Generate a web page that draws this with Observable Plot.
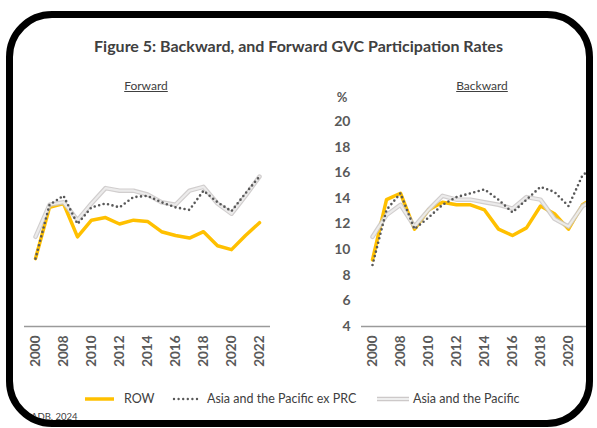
<!DOCTYPE html>
<html><head><meta charset="utf-8">
<script src="https://cdn.jsdelivr.net/npm/d3@7"></script>
<script src="https://cdn.jsdelivr.net/npm/@observablehq/plot@0.6"></script>
<style>
body{margin:0;background:#fff;}
#page{position:relative;width:597px;height:428px;overflow:hidden;font-family:Lato,"Open Sans",sans-serif;background:#fff;}
#frame{position:absolute;left:6px;top:11px;width:587px;height:416px;box-sizing:border-box;border:7px solid #000;border-radius:46px;overflow:hidden;}
#inner{position:absolute;left:-13px;top:-18px;width:597px;height:428px;}
.abs{position:absolute;white-space:nowrap;}
#charts svg{position:absolute;left:0;top:0;max-width:none !important;}
.lg{position:absolute;top:391px;font-size:12.5px;color:#404040;white-space:nowrap;}
</style></head><body>
<div id="page"><div id="frame"><div id="inner">
  <div class="abs" style="left:0;width:597px;top:36px;text-align:center;font-weight:bold;font-size:16px;color:#404040">Figure 5: Backward, and Forward GVC Participation Rates</div>
  <div class="abs" style="left:96px;width:100px;top:78px;text-align:center;font-size:12px;color:#404040;text-decoration:underline">Forward</div>
  <div class="abs" style="left:432px;width:100px;top:78px;text-align:center;font-size:12px;color:#404040;text-decoration:underline">Backward</div>
  <div class="abs" style="left:322px;width:40px;top:89px;text-align:center;font-size:13px;font-weight:bold;color:#595959">%</div>
  <div id="charts"></div>
  <div id="legend"></div>
  <div class="abs" style="left:31px;top:411px;font-size:9.5px;color:#404040">ADB, 2024</div>
</div></div></div>
<script>
// Categories
const years = ["2000","2007","2008","2009","2010","2011","2012","2013","2014","2015","2016","2017","2018","2019","2020","2021","2022"];
const tickYears = ["2000","2008","2010","2012","2014","2016","2018","2020","2022"];
const tickYearsBackward = ["2000","2008","2010","2012","2014","2016","2018","2020"];
const yTicks = [4,6,8,10,12,14,16,18,20];
const seriesNames = ["ROW","Asia and the Pacific ex PRC","Asia and the Pacific"];

// Forward participation (%)
const rowForward   = [9.3, 13.3, 13.6, 11.0, 12.3, 12.5, 12.0, 12.3, 12.2, 11.4, 11.1, 10.9, 11.4, 10.3, 10.0, 11.1, 12.1];
const exPrcForward = [9.3, 13.5, 14.2, 12.0, 13.3, 13.6, 13.3, 14.1, 14.2, 13.7, 13.3, 13.1, 14.6, 13.7, 13.0, 14.4, 15.7];
const apForward    = [11.0, 13.5, 13.7, 12.3, 13.6, 14.8, 14.6, 14.6, 14.3, 13.7, 13.5, 14.6, 14.9, 13.6, 12.8, 14.2, 15.7];

// Backward participation (%)
const rowBackward   = [9.2, 13.9, 14.4, 11.6, 13.1, 13.7, 13.5, 13.5, 13.1, 11.6, 11.1, 11.7, 13.4, 12.8, 11.6, 13.5, 14.2];
const exPrcBackward = [8.8, 13.1, 14.4, 11.6, 12.5, 13.5, 14.1, 14.4, 14.7, 13.9, 12.9, 13.9, 14.9, 14.5, 13.4, 15.8, 16.6];
const apBackward    = [11.0, 12.7, 13.5, 11.8, 13.1, 14.2, 13.9, 13.9, 13.7, 13.5, 13.2, 14.1, 13.9, 12.4, 11.8, 13.4, 14.0];

const colors = {row:"#ffc000", dot:"#595959", apOuter:"#c9c5c5", apInner:"#eeeeee"};

function tidy(vals){ return years.map((y,i)=>({year:y, value:vals[i]})); }

function panel(row, exprc, ap, opts){
  return Plot.plot({
    width: opts.width, height: 380,
    marginTop: 100, marginBottom: 54, marginLeft: opts.marginLeft, marginRight: opts.marginRight,
    x: {type:"point", domain: years, range: opts.xRange, padding: 0},
    y: {domain:[4,20], range:[326,121], axis: opts.showY ? undefined : null},
    style: {background:"transparent", overflow:"visible", fontFamily:"Lato, 'Open Sans', sans-serif", maxWidth:"none"},
    marks: [
      Plot.ruleY([4], {stroke:"#9a9a9a", strokeWidth:1.5}),
      Plot.axisX({ticks: opts.ticks, tickSize:0, tickRotate:-90, tickPadding:9, label:null,
                  fontSize:13.5, fontWeight:"bold", fill:"#595959"}),
      opts.showY ? Plot.axisY({ticks: yTicks, tickSize:0, tickPadding:11, label:null,
                  fontSize:14, fontWeight:"bold", fill:"#595959"}) : null,
      Plot.line(tidy(row), {x:"year", y:"value", stroke:colors.row, strokeWidth:3.5, strokeLinejoin:"round"}),
      Plot.line(tidy(ap), {x:"year", y:"value", stroke:colors.apOuter, strokeWidth:4.5, strokeOpacity:0.85, strokeLinejoin:"round"}),
      Plot.line(tidy(ap), {x:"year", y:"value", stroke:colors.apInner, strokeWidth:2.2, strokeOpacity:0.9, strokeLinejoin:"round"}),
      Plot.line(tidy(exprc), {x:"year", y:"value", stroke:colors.dot, strokeWidth:2.6, strokeDasharray:"0 4.6", strokeLinecap:"round"})
    ]
  });
}

const charts = document.getElementById("charts");
charts.appendChild(panel(rowForward, exPrcForward, apForward,
  {width:300, marginLeft:24, marginRight:30, xRange:[33,261], showY:false, ticks:tickYears}));
charts.appendChild(panel(rowBackward, exPrcBackward, apBackward,
  {width:640, marginLeft:361, marginRight:0, xRange:[368,600], showY:true, ticks:tickYearsBackward}));

// Legend
const legend = document.getElementById("legend");
const items = [
  {name: seriesNames[0], x:85, w:29, tx:124, type:"row"},
  {name: seriesNames[1], x:174, w:27, tx:207, type:"dot"},
  {name: seriesNames[2], x:377, w:32, tx:413, type:"ap"}
];
for (const it of items) {
  const ns = "http://www.w3.org/2000/svg";
  const s = document.createElementNS(ns, "svg");
  s.setAttribute("width", it.w + 4); s.setAttribute("height", 8);
  s.style.position = "absolute"; s.style.left = (it.x - 2) + "px"; s.style.top = "395px";
  const mk = (stroke, sw, extra) => {
    const l = document.createElementNS(ns, "line");
    l.setAttribute("x1", 2); l.setAttribute("x2", it.w + 2); l.setAttribute("y1", 4); l.setAttribute("y2", 4);
    l.setAttribute("stroke", stroke); l.setAttribute("stroke-width", sw);
    if (extra) for (const k in extra) l.setAttribute(k, extra[k]);
    s.appendChild(l);
  };
  if (it.type === "row") mk(colors.row, 3.5);
  else if (it.type === "dot") mk(colors.dot, 2.4, {"stroke-dasharray":"0 4.6", "stroke-linecap":"round"});
  else { mk(colors.apOuter, 4.5); mk(colors.apInner, 2.2); }
  legend.appendChild(s);
  const t = document.createElement("div");
  t.className = "lg"; t.style.left = it.tx + "px"; t.textContent = it.name;
  legend.appendChild(t);
}
</script>
</body></html>
